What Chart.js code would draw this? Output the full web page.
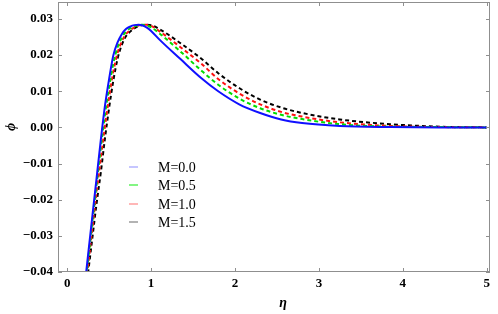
<!DOCTYPE html>
<html>
<head>
<meta charset="utf-8">
<script src="https://cdn.jsdelivr.net/npm/chart.js@4.4.1/dist/chart.umd.min.js"></script>
<style>
  html, body { margin: 0; padding: 0; background: #fff; }
  #wrap { width: 498px; height: 314px; }
</style>
</head>
<body>
<div id="wrap"><canvas id="phiChart" width="498" height="314"></canvas></div>
<script>
// eta grid and phi values
const eta = [0.2, 0.25, 0.3, 0.35, 0.4, 0.45, 0.5, 0.55, 0.6, 0.65, 0.7, 0.75, 0.8, 0.85, 0.9, 0.95, 1.0, 1.1, 1.35, 1.6, 1.8, 2.05, 2.3, 2.55, 2.8, 3.25, 3.85, 4.45, 5.0];
const phiM00 = [-0.0455, -0.035, -0.0245, -0.014, -0.0035, 0.006, 0.0135, 0.0200, 0.0235, 0.0258, 0.0272, 0.0279, 0.0283, 0.0284, 0.0282, 0.0276, 0.0267, 0.0243, 0.0189, 0.0136, 0.0100, 0.0064, 0.0040, 0.0022, 0.0012, 0.0004, 0.0001, 0.0, 0.0];
const phiM05 = [-0.047, -0.0365, -0.026, -0.0157, -0.0056, 0.0035, 0.0112, 0.0178, 0.0222, 0.0248, 0.0265, 0.0274, 0.0280, 0.0283, 0.0284, 0.0282, 0.0277, 0.0260, 0.0210, 0.0157, 0.0118, 0.0080, 0.0053, 0.0035, 0.0023, 0.0009, 0.0002, 0.0001, 0.0];
const phiM10 = [-0.0485, -0.038, -0.0278, -0.0178, -0.0085, 0.0003, 0.0085, 0.0155, 0.0206, 0.0238, 0.0258, 0.0269, 0.0277, 0.0282, 0.0284, 0.0284, 0.0281, 0.0266, 0.0222, 0.0176, 0.0134, 0.0094, 0.0064, 0.0043, 0.0030, 0.0014, 0.0004, 0.0001, 0.0];
const phiM15 = [-0.050, -0.040, -0.0305, -0.021, -0.0125, -0.003, 0.0055, 0.0130, 0.0190, 0.0228, 0.0252, 0.0265, 0.0274, 0.0280, 0.0283, 0.0284, 0.0283, 0.0272, 0.0233, 0.0190, 0.0150, 0.0109, 0.0077, 0.0055, 0.0040, 0.0022, 0.0009, 0.0002, 0.0];
const seriesLabels = ["M=0.0", "M=0.5", "M=1.0", "M=1.5"];
const xTicks = [0, 1, 2, 3, 4, 5];
const yTicks = [-0.04, -0.03, -0.02, -0.01, 0.00, 0.01, 0.02, 0.03];

const lineColors = ["#1010ff", "#00dd00", "#ff1010", "#000000"];
const legendColors = ["#a0a0ff", "#33ee33", "#ff8888", "#808080"];
const tickFont = { family: "'Liberation Serif', serif", size: 13, weight: "bold" };

function toPoints(ys) {
    return eta.map((x, i) => ({ x: x, y: ys[i] }));
}

const allSeries = [phiM00, phiM05, phiM10, phiM15];
const datasets = allSeries.map((ys, i) => ({
    label: seriesLabels[i],
    data: toPoints(ys),
    borderColor: lineColors[i],
    borderWidth: 2,
    borderDash: i === 0 ? [] : [4, 3],
    pointRadius: 0,
    fill: false,
    cubicInterpolationMode: "monotone"
}));

// frame, inner ticks, axis titles and legend
const decorations = {
    id: "decorations",
    afterDraw(chart) {
        const c = chart.ctx;
        const a = chart.chartArea;
        const xs = chart.scales.x, ys = chart.scales.y;
        c.save();
        c.strokeStyle = "#8f8f8f";
        c.lineWidth = 1;
        c.strokeRect(a.left + 0.5, a.top + 0.5, a.right - a.left - 1, a.bottom - a.top - 1);

        c.beginPath();
        xTicks.forEach(v => {
            const px = Math.round(xs.getPixelForValue(v)) + 0.5;
            c.moveTo(px, a.bottom); c.lineTo(px, a.bottom - 4);
            c.moveTo(px, a.top); c.lineTo(px, a.top + 4);
        });
        yTicks.forEach(v => {
            const py = Math.round(ys.getPixelForValue(v)) + 0.5;
            c.moveTo(a.left, py); c.lineTo(a.left + 4, py);
            c.moveTo(a.right, py); c.lineTo(a.right - 4, py);
        });
        c.stroke();

        // axis titles
        c.fillStyle = "#000";
        c.font = "italic bold 14px 'Liberation Serif', serif";
        c.textAlign = "center";
        c.textBaseline = "middle";
        c.fillText("η", 283, 303);
        c.save();
        c.translate(11, 127);
        c.rotate(-Math.PI / 2);
        c.fillText("ϕ", 0, 0);
        c.restore();

        // legend
        const legendY = [167, 185, 204, 222];
        c.font = "14px 'Liberation Serif', serif";
        c.textAlign = "left";
        seriesLabels.forEach((lab, i) => {
            c.strokeStyle = legendColors[i];
            c.lineWidth = 1.2;
            c.beginPath();
            c.moveTo(129, legendY[i]); c.lineTo(138, legendY[i]);
            c.stroke();
            c.fillStyle = "#000";
            c.fillText(lab, 158, legendY[i] + 1);
        });
        c.restore();
    }
};

const ctx = document.getElementById("phiChart").getContext("2d");
const phiChart = new Chart(ctx, {
    type: "line",
    data: { datasets: datasets },
    options: {
        responsive: false,
        animation: false,
        layout: { padding: { top: 2, right: 8, left: 0, bottom: 0 } },
        plugins: { legend: { display: false }, tooltip: { enabled: false } },
        scales: {
            x: {
                type: "linear",
                min: -0.11,
                max: 5.04,
                grid: { display: false, drawTicks: false },
                border: { display: false },
                afterFit(scale) {
                    scale.height = 42;
                    scale.paddingLeft = 0;
                    scale.paddingRight = 0;
                },
                afterBuildTicks(scale) { scale.ticks = xTicks.map(v => ({ value: v })); },
                ticks: {
                    color: "#000",
                    font: tickFont,
                    padding: 4,
                    maxRotation: 0,
                    callback: v => String(v)
                }
            },
            y: {
                type: "linear",
                min: -0.04,
                max: 0.0347,
                grid: { display: false, drawTicks: false },
                border: { display: false },
                afterFit(scale) {
                    scale.width = 58;
                    scale.paddingTop = 0;
                    scale.paddingBottom = 0;
                },
                afterBuildTicks(scale) { scale.ticks = yTicks.map(v => ({ value: v })); },
                ticks: {
                    color: "#000",
                    font: tickFont,
                    padding: 5,
                    callback: v => v.toFixed(2).replace("-", "\u2212")
                }
            }
        }
    },
    plugins: [decorations]
});
</script>
</body>
</html>
